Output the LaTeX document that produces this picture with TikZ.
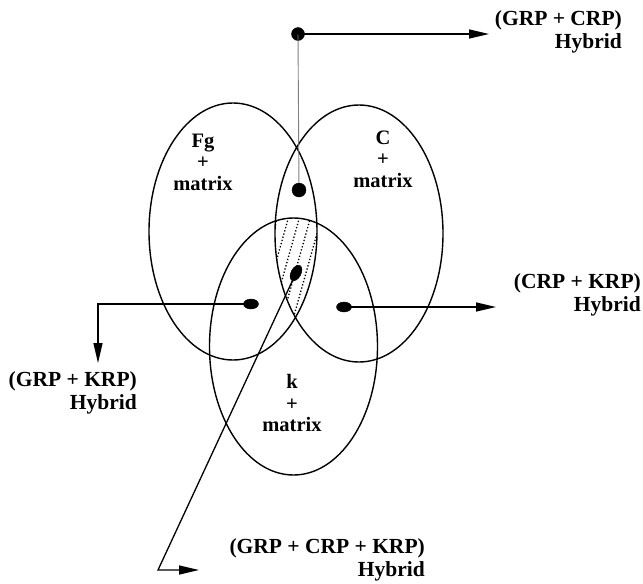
\documentclass[tikz,border=0pt]{standalone}
\usepackage{fontspec}
\setmainfont{Liberation Serif}
\usetikzlibrary{arrows.meta,shapes.geometric}

\begin{document}
\begin{tikzpicture}[x=1pt,y=-1pt,
	setline/.style={line width=1.4pt},
	inlbl/.style={font=\fontsize{20.5}{21.5}\selectfont\bfseries, align=center, inner sep=0pt},
	hyb/.style={font=\fontsize{21.5}{23.5}\selectfont\bfseries, align=right, inner sep=0pt, anchor=east},
	dot/.style={ellipse, fill=black, draw=black, inner sep=0pt},
	link/.style={line width=1.3pt, -{Triangle[length=20pt,width=9pt]}}]
	\useasboundingbox (0,0) rectangle (643,584);

	% Sets
	\draw[setline] (233,231.5) ellipse [x radius=84, y radius=128.5];
	\draw[setline] (359,233.5) ellipse [x radius=84, y radius=128.5];
	\draw[setline] (293.5,346.5) ellipse [x radius=84, y radius=128.5];

	\node[inlbl] (fgl) at (203,162) {Fg\\+\\matrix};
	\node[inlbl] (cl) at (383,159) {C\\+\\matrix};
	\node[inlbl] (kl) at (292,403) {k\\+\\matrix};

	% Common part of all three
	\begin{scope}
		\clip (233,231.5) ellipse [x radius=84, y radius=128.5];
		\clip (359,233.5) ellipse [x radius=84, y radius=128.5];
		\clip (293.5,346.5) ellipse [x radius=84, y radius=128.5];
		\foreach \k in {-4,...,6}
			\draw[line width=1.3pt, dash pattern=on 1.3pt off 2pt] (257+11*\k,330) -- (292+11*\k,205);
	\end{scope}

	% Dots
	\node[dot, minimum width=13pt, minimum height=13pt] (gc) at (298,34) {};
	\node[dot, minimum width=14pt, minimum height=14pt] (gcin) at (299,190) {};
	\node[dot, minimum width=10pt, minimum height=17pt, rotate=-28] (gck) at (296,273) {};
	\node[dot, minimum width=15pt, minimum height=10pt] (gk) at (251,304) {};
	\node[dot, minimum width=15pt, minimum height=10pt] (ck) at (344,307) {};

	\coordinate (gcend) at (489,34);
	\coordinate (ckend) at (496,307);
	\coordinate (gkbend) at (98,304);
	\coordinate (gkend) at (98,363);
	\coordinate (gckbend) at (158,570);
	\coordinate (gckend) at (199,570);

	\draw[gray, line width=0.9pt] (gc.center) -- (gcin);
	\draw[link] (gc.center) -- (gcend);
	\draw[link] (ck.center) -- (ckend);
	\draw[link] (gk.center) -- (gkbend) -- (gkend);
	\draw[link] (gck.center) -- (gckbend) -- (gckend);

	% Hybrids
	\node[hyb] (gcl) at (622,32) {(GRP + CRP)\\Hybrid};
	\node[hyb] (ckl) at (641,295) {(CRP + KRP)\\Hybrid};
	\node[hyb] (gkl) at (137,393) {(GRP + KRP)\\Hybrid};
	\node[hyb] (gckl) at (425,560) {(GRP + CRP + KRP)\\Hybrid};
\end{tikzpicture}
\end{document}
